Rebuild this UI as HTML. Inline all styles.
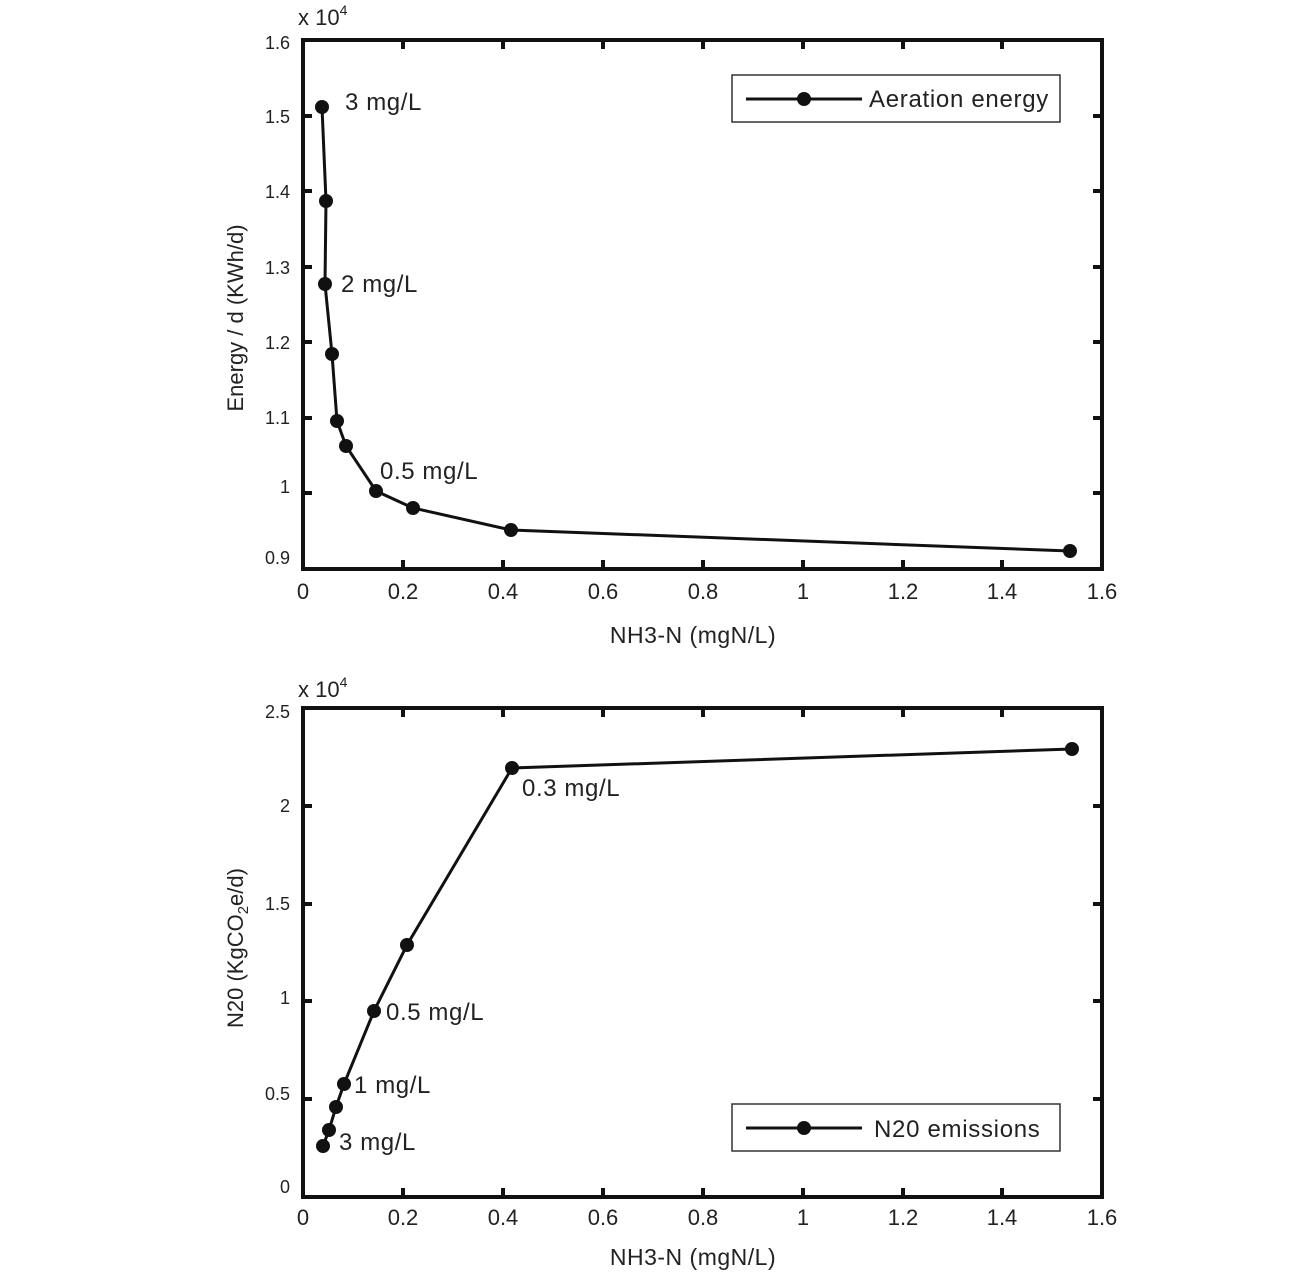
<!DOCTYPE html>
<html><head><style>body{margin:0;background:#fff}svg{display:block}text{font-family:"Liberation Sans",sans-serif;fill:#222}</style></head>
<body>
<svg width="1308" height="1286" viewBox="0 0 1308 1286">
<g stroke="#111" stroke-width="4" fill="none">
<rect x="303" y="40" width="799" height="529"/>
<rect x="303" y="708" width="799" height="489"/>
</g>
<g stroke="#111" stroke-width="4">
<path d="M403 40v9M503 40v9M603 40v9M703 40v9M803 40v9M903 40v9M1002 40v9
M403 569v-9M503 569v-9M603 569v-9M703 569v-9M803 569v-9M903 569v-9M1002 569v-9
M303 116h9M303 191h9M303 267h9M303 342h9M303 418h9M303 493h9
M1102 116h-9M1102 191h-9M1102 267h-9M1102 342h-9M1102 418h-9M1102 493h-9"/>
<path d="M403 708v9M503 708v9M603 708v9M703 708v9M803 708v9M903 708v9M1002 708v9
M403 1197v-9M503 1197v-9M603 1197v-9M703 1197v-9M803 1197v-9M903 1197v-9M1002 1197v-9
M303 806h9M303 904h9M303 1001h9M303 1099h9
M1102 806h-9M1102 904h-9M1102 1001h-9M1102 1099h-9"/>
</g>
<g font-size="18" text-anchor="end">
<text x="290" y="49">1.6</text><text x="290" y="123">1.5</text><text x="290" y="198">1.4</text><text x="290" y="274">1.3</text><text x="290" y="349">1.2</text><text x="290" y="424">1.1</text><text x="290" y="493">1</text><text x="290" y="564">0.9</text>
<text x="290" y="718">2.5</text><text x="290" y="812">2</text><text x="290" y="910">1.5</text><text x="290" y="1004">1</text><text x="290" y="1100">0.5</text><text x="290" y="1193">0</text>
</g>
<g font-size="22" text-anchor="middle">
<text x="303" y="599">0</text><text x="403" y="599">0.2</text><text x="503" y="599">0.4</text><text x="603" y="599">0.6</text><text x="703" y="599">0.8</text><text x="803" y="599">1</text><text x="903" y="599">1.2</text><text x="1002" y="599">1.4</text><text x="1102" y="599">1.6</text>
<text x="303" y="1225">0</text><text x="403" y="1225">0.2</text><text x="503" y="1225">0.4</text><text x="603" y="1225">0.6</text><text x="703" y="1225">0.8</text><text x="803" y="1225">1</text><text x="903" y="1225">1.2</text><text x="1002" y="1225">1.4</text><text x="1102" y="1225">1.6</text>
</g>
<g font-size="23" text-anchor="middle" letter-spacing="0.5">
<text x="693" y="643">NH3-N (mgN/L)</text>
<text x="693" y="1265">NH3-N (mgN/L)</text>
</g>
<text x="298" y="25" font-size="22">x 10<tspan font-size="14" dy="-10">4</tspan></text>
<text x="298" y="697" font-size="22">x 10<tspan font-size="14" dy="-10">4</tspan></text>
<text transform="translate(243,318) rotate(-90)" font-size="22" text-anchor="middle">Energy / d (KWh/d)</text>
<text transform="translate(243,948) rotate(-90)" font-size="22" text-anchor="middle">N20 (KgCO<tspan font-size="15" dy="5">2</tspan><tspan dy="-5">e/d)</tspan></text>
<g stroke="#111" stroke-width="3" fill="none">
<polyline points="322,107 326,201 325,284 332,354 337,421 346,446 376,491 413,508 511,530 1070,551"/>
<polyline points="323,1146 329,1130 336,1107 344,1084 374,1011 407,945 512,768 1072,749"/>
</g>
<g fill="#111">
<circle cx="322" cy="107" r="7"/><circle cx="326" cy="201" r="7"/><circle cx="325" cy="284" r="7"/><circle cx="332" cy="354" r="7"/><circle cx="337" cy="421" r="7"/><circle cx="346" cy="446" r="7"/><circle cx="376" cy="491" r="7"/><circle cx="413" cy="508" r="7"/><circle cx="511" cy="530" r="7"/><circle cx="1070" cy="551" r="7"/>
<circle cx="323" cy="1146" r="7"/><circle cx="329" cy="1130" r="7"/><circle cx="336" cy="1107" r="7"/><circle cx="344" cy="1084" r="7"/><circle cx="374" cy="1011" r="7"/><circle cx="407" cy="945" r="7"/><circle cx="512" cy="768" r="7"/><circle cx="1072" cy="749" r="7"/>
</g>
<g font-size="24" letter-spacing="0.6">
<text x="345" y="110">3 mg/L</text><text x="341" y="292">2 mg/L</text><text x="380" y="479">0.5 mg/L</text>
<text x="522" y="796">0.3 mg/L</text><text x="386" y="1020">0.5 mg/L</text><text x="354" y="1093">1 mg/L</text><text x="339" y="1150">3 mg/L</text>
</g>
<rect x="732" y="75" width="328" height="47" fill="#fff" stroke="#333" stroke-width="1.5"/>
<path d="M746 99h116" stroke="#111" stroke-width="3"/><circle cx="804" cy="99" r="7" fill="#111"/>
<text x="869" y="107" font-size="24" letter-spacing="0.7">Aeration energy</text>
<rect x="732" y="1104" width="328" height="47" fill="#fff" stroke="#333" stroke-width="1.5"/>
<path d="M746 1128h116" stroke="#111" stroke-width="3"/><circle cx="804" cy="1128" r="7" fill="#111"/>
<text x="874" y="1137" font-size="24" letter-spacing="0.7">N20 emissions</text>
</svg>
</body></html>
